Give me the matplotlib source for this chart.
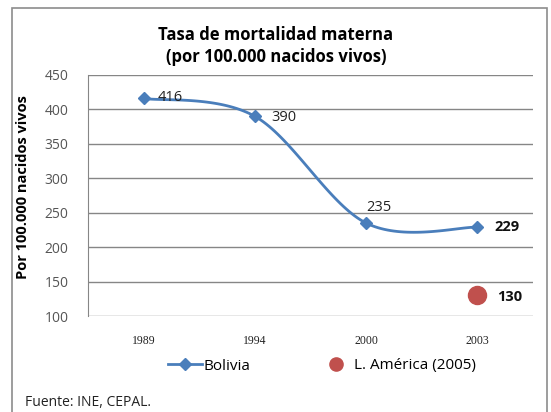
import numpy as np
import matplotlib
matplotlib.use("Agg")
import matplotlib.pyplot as plt
from matplotlib.lines import Line2D
from matplotlib.patches import Rectangle

# DATA
years = ["1989", "1994", "2000", "2003"]
bolivia = [416, 390, 235, 229]
latam_year_idx = 3
latam_value = 130

BLUE = "#4A7EBB"
RED = "#C0504D"
GRID = "#868686"

def smooth(xs, ys, n=40):
    """Catmull-Rom spline (Excel style smoothing) through the points"""
    px = np.r_[xs[0], xs, xs[-1]].astype(float)
    py = np.r_[ys[0], ys, ys[-1]].astype(float)
    out_x, out_y = [], []
    t = np.linspace(0, 1, n)
    for i in range(1, len(px) - 2):
        p0x, p1x, p2x, p3x = px[i-1:i+3]
        p0y, p1y, p2y, p3y = py[i-1:i+3]
        c1x, c1y = p1x + (p2x - p0x)/6, p1y + (p2y - p0y)/6
        c2x, c2y = p2x - (p3x - p1x)/6, p2y - (p3y - p1y)/6
        bx = (1-t)**3*p1x + 3*(1-t)**2*t*c1x + 3*(1-t)*t**2*c2x + t**3*p2x
        by = (1-t)**3*p1y + 3*(1-t)**2*t*c1y + 3*(1-t)*t**2*c2y + t**3*p2y
        out_x.append(bx); out_y.append(by)
    return np.concatenate(out_x), np.concatenate(out_y)

fig = plt.figure(figsize=(5.51, 4.12), dpi=100)
plt.rcParams['font.family'] = ['Open Sans', 'DejaVu Sans']

# outer frame
fig.patches.append(Rectangle((12/551, -0.05), (547-12)/551, 1.05 - 8/412,
                             transform=fig.transFigure, fill=False,
                             edgecolor="#8C8C8C", lw=1.2))

ax = fig.add_axes([88/551, 1-316/412, (533-88)/551, (316-75)/412])
ax.set_xlim(-0.5, 3.5)
ax.set_ylim(100, 450)

x = np.arange(len(years))
# smooth in pixel-like space so the curve matches screen proportions
sx = 111.25; sy = 241/350
cx, cy = smooth(x*sx, np.array(bolivia)*sy)
ax.plot(cx/sx, cy/sy, color=BLUE, lw=2.0, solid_capstyle="round", zorder=3)
ax.plot(x, bolivia, ls="none", marker="D", ms=6, color=BLUE, zorder=4)
ax.plot([latam_year_idx], [latam_value], ls="none", marker="o", ms=13, color=RED, zorder=4)

# data labels
lab = dict(textcoords="offset points", va="center", ha="left", fontsize=10.5)
ax.annotate(str(bolivia[0]), (0, bolivia[0]), xytext=(10, 1), color="#222222", **lab)
ax.annotate(str(bolivia[1]), (1, bolivia[1]), xytext=(12, -1), color="#222222", **lab)
ax.annotate(str(bolivia[2]), (2, bolivia[2]), xytext=(0, 11), color="#222222", **lab)
ax.annotate(str(bolivia[3]), (3, bolivia[3]), xytext=(12, 0), fontweight="bold", color="#111111", **lab)
ax.annotate(str(latam_value), (latam_year_idx, latam_value), xytext=(14, -1),
            fontweight="bold", color="#111111", **lab)

ax.set_yticks(range(100, 451, 50))
ax.set_xticks(x)
ax.set_xticklabels(years, family="Liberation Serif", fontsize=8.5, color="#222222")
ax.tick_params(axis="x", length=0, pad=14)
ax.tick_params(axis="y", length=0, pad=14, labelsize=10, labelcolor="#555555")
ax.grid(axis="y", color=GRID, lw=1.0)
ax.set_axisbelow(True)
for s in ["top", "right", "bottom"]:
    ax.spines[s].set_visible(False)
ax.spines["left"].set_color(GRID)

ax.set_ylabel("Por 100.000 nacidos vivos", fontsize=10.5, fontweight="bold")
ax.yaxis.set_label_coords(-58/445, 0.535)

fig.text(276/551, 1-35/412, "Tasa de mortalidad materna", ha="center", va="center",
         fontsize=12, fontweight="bold")
fig.text(276/551, 1-57/412, "(por 100.000 nacidos vivos)", ha="center", va="center",
         fontsize=12, fontweight="bold")

handles = [Line2D([], [], color=BLUE, lw=2, marker="D", ms=6),
           Line2D([], [], ls="none", color=RED, marker="o", ms=9.5)]
fig.legend(handles, ["Bolivia", "L. América (2005)"], loc="center",
           bbox_to_anchor=(322/551, 1-366/412), ncol=2, frameon=False,
           fontsize=11, handlelength=2.2, handletextpad=0.1, columnspacing=4.5)

fig.text(25/551, 1-403/412, "Fuente: INE, CEPAL.", ha="left", va="center", fontsize=10, color="#222222")

fig.savefig("out.png", dpi=100)
